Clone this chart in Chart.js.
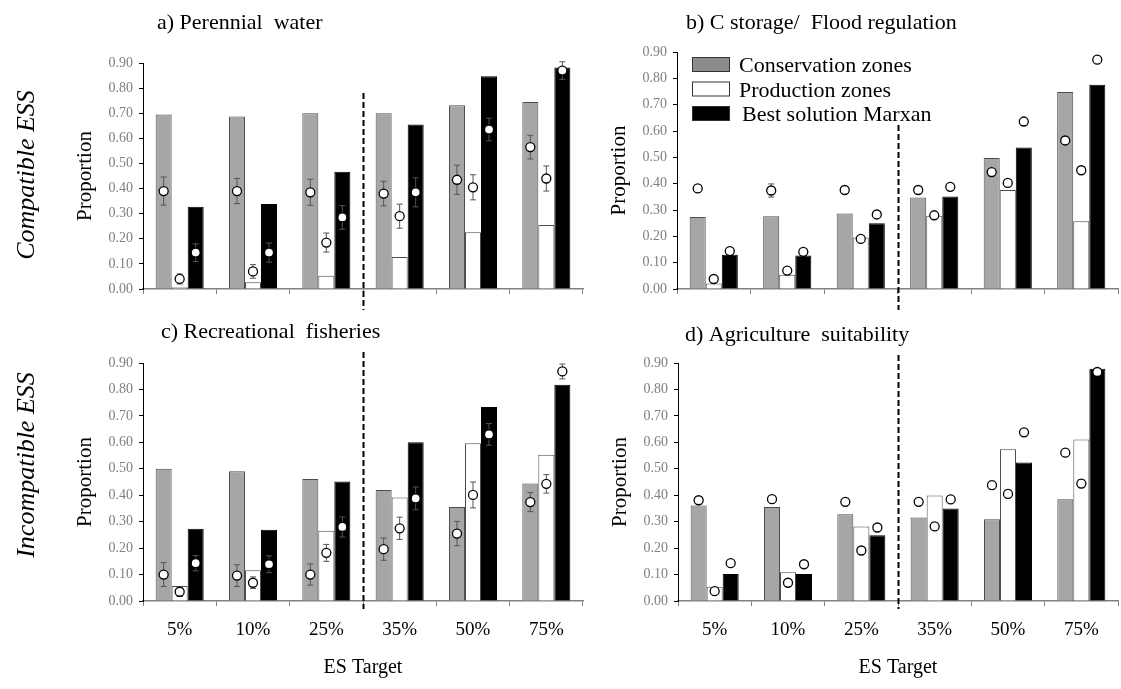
<!DOCTYPE html>
<html>
<head>
<meta charset="utf-8">
<style>
  html, body { margin: 0; padding: 0; background: #fff; }
  #wrap { position: relative; width: 1121px; height: 689px; }
  #wrap canvas { position: absolute; left: 0; top: 0; }
</style>
</head>
<body>
<div id="wrap">
  <canvas id="pa" width="1121" height="689"></canvas>
  <canvas id="pb" width="1121" height="689"></canvas>
  <canvas id="pc" width="1121" height="689"></canvas>
  <canvas id="pd" width="1121" height="689"></canvas>
</div>
<script src="https://cdn.jsdelivr.net/npm/chart.js"></script>
<script>
const targets = ['5%', '10%', '25%', '35%', '50%', '75%'];
const seriesNames = ['Conservation zones', 'Production zones', 'Best solution Marxan'];

// a) Perennial water
const aCons = [0.695, 0.687, 0.700, 0.700, 0.732, 0.745];
const aProd = [0.007, 0.027, 0.053, 0.127, 0.226, 0.255];
const aMarx = [0.328, 0.338, 0.467, 0.655, 0.847, 0.882];
const aConsPt = [0.390, 0.390, 0.385, 0.380, 0.435, 0.565];
const aProdPt = [0.040, 0.070, 0.185, 0.290, 0.405, 0.440];
const aMarxPt = [0.145, 0.145, 0.285, 0.385, 0.635, 0.870];
const aConsErr = [0.056, 0.050, 0.052, 0.049, 0.058, 0.047];
const aProdErr = [0.020, 0.027, 0.038, 0.048, 0.050, 0.050];
const aMarxErr = [0.035, 0.038, 0.047, 0.058, 0.045, 0.035];

// b) C storage/ Flood regulation
const bCons = [0.273, 0.276, 0.287, 0.347, 0.497, 0.748];
const bProd = [0.021, 0.054, 0.196, 0.278, 0.376, 0.257];
const bMarx = [0.130, 0.127, 0.250, 0.351, 0.537, 0.776];
const bConsPt = [0.382, 0.374, 0.376, 0.376, 0.444, 0.564];
const bProdPt = [0.038, 0.070, 0.190, 0.280, 0.403, 0.451];
const bMarxPt = [0.144, 0.141, 0.283, 0.388, 0.636, 0.871];
const bConsErr = [0.012, 0.025, 0.010, 0.010, 0.012, 0.010];
const bProdErr = [0.010, 0.010, 0.008, 0.008, 0.012, 0.012];
const bMarxErr = [0.010, 0.010, 0.012, 0.012, 0.010, 0.008];

// c) Recreational fisheries
const cCons = [0.500, 0.491, 0.461, 0.420, 0.355, 0.444];
const cProd = [0.057, 0.116, 0.266, 0.391, 0.597, 0.553];
const cMarx = [0.273, 0.269, 0.452, 0.600, 0.734, 0.818];
const cConsPt = [0.100, 0.096, 0.100, 0.196, 0.255, 0.374];
const cProdPt = [0.035, 0.069, 0.182, 0.275, 0.401, 0.443];
const cMarxPt = [0.143, 0.139, 0.280, 0.388, 0.630, 0.868];
const cConsErr = [0.045, 0.041, 0.040, 0.042, 0.046, 0.036];
const cProdErr = [0.018, 0.022, 0.032, 0.042, 0.049, 0.035];
const cMarxErr = [0.029, 0.032, 0.038, 0.043, 0.041, 0.028];

// d) Agriculture suitability
const dCons = [0.361, 0.355, 0.328, 0.316, 0.309, 0.385];
const dProd = [0.054, 0.109, 0.282, 0.399, 0.574, 0.611];
const dMarx = [0.102, 0.102, 0.249, 0.350, 0.524, 0.878];
const dConsPt = [0.381, 0.385, 0.375, 0.375, 0.438, 0.561];
const dProdPt = [0.037, 0.069, 0.191, 0.282, 0.405, 0.444];
const dMarxPt = [0.143, 0.139, 0.278, 0.384, 0.638, 0.866];
const dConsErr = [0.008, 0.008, 0.008, 0.008, 0.015, 0.008];
const dProdErr = [0.008, 0.008, 0.008, 0.008, 0.015, 0.015];
const dMarxErr = [0.008, 0.008, 0.008, 0.008, 0.008, 0.005];

const serif = "'Liberation Serif', 'Times New Roman', serif";
const barFill = ['#a6a6a6', '#ffffff', '#000000'];
const barLine = ['#4d4d4d', '#4d4d4d', '#000000'];

// error bars, circles, dashed divider, titles and legend
const decor = {
  id: 'decor',
  afterDatasetsDraw(chart, args, o) {
    const ctx = chart.ctx;
    const y = chart.scales.y, x = chart.scales.x;
    ctx.save();
    // dashed divider between 25% and 35%
    const dx = Math.round(x.getPixelForValue(2.5)) + 0.5;
    ctx.strokeStyle = '#000';
    ctx.lineWidth = 2;
    ctx.setLineDash([6, 3]);
    ctx.beginPath();
    ctx.moveTo(dx, o.dashTop);
    ctx.lineTo(dx, o.dashBottom);
    ctx.stroke();
    ctx.setLineDash([]);
    // points with error bars
    o.points.forEach((vals, i) => {
      const meta = chart.getDatasetMeta(i);
      vals.forEach((v, j) => {
        const px = meta.data[j].x;
        const py = y.getPixelForValue(v);
        const e = o.errs[i][j];
        const y1 = y.getPixelForValue(v + e), y2 = y.getPixelForValue(v - e);
        ctx.strokeStyle = '#555';
        ctx.lineWidth = 1;
        ctx.beginPath();
        ctx.moveTo(px, y1); ctx.lineTo(px, y2);
        ctx.moveTo(px - 3, y1); ctx.lineTo(px + 3, y1);
        ctx.moveTo(px - 3, y2); ctx.lineTo(px + 3, y2);
        ctx.stroke();
        ctx.beginPath();
        ctx.arc(px, py, 4.5, 0, Math.PI * 2);
        ctx.fillStyle = '#fff';
        ctx.fill();
        ctx.strokeStyle = '#000';
        ctx.lineWidth = 1.3;
        ctx.stroke();
      });
    });
    ctx.restore();
  },
  afterDraw(chart, args, o) {
    const ctx = chart.ctx;
    const area = chart.chartArea;
    ctx.save();
    ctx.fillStyle = '#000';
    ctx.textBaseline = 'alphabetic';
    ctx.font = '22px ' + serif;
    ctx.textAlign = 'left';
    ctx.fillText(o.title, o.titleX, o.titleY);
    if (o.xTitle) {
      ctx.font = '20px ' + serif;
      ctx.textAlign = 'center';
      ctx.fillText(o.xTitle, (area.left + area.right) / 2, o.xTitleY);
    }
    if (o.rowLabel) {
      ctx.font = 'italic 26px ' + serif;
      ctx.textAlign = 'center';
      ctx.textBaseline = 'middle';
      ctx.translate(o.rowX, o.rowY);
      ctx.rotate(-Math.PI / 2);
      ctx.fillText(o.rowLabel, 0, 0);
      ctx.setTransform(1, 0, 0, 1, 0, 0);
    }
    if (o.legend) {
      ctx.textBaseline = 'alphabetic';
      ctx.textAlign = 'left';
      ctx.font = '22px ' + serif;
      const sw = ['#8c8c8c', '#ffffff', '#000000'];
      chart.data.datasets.forEach((ds, i) => {
        const top = area.top + 5 + i * 24.5;
        const left = area.left + 15;
        ctx.fillStyle = sw[i];
        ctx.fillRect(left, top, 38, 15);
        ctx.strokeStyle = '#333';
        ctx.lineWidth = 1;
        ctx.strokeRect(left + 0.5, top + 0.5, 37, 14);
        ctx.fillStyle = '#000';
        ctx.fillText(ds.label, left + 47 + (i === 2 ? 3 : 0), top + 15);
      });
    }
    ctx.restore();
  }
};

function makePanel(id, area, bars, points, errs, extra) {
  const [L, T, R, B] = area;
  const W = 70;
  const H = extra.showX ? 40 : 8;
  return new Chart(document.getElementById(id), {
    type: 'bar',
    data: {
      labels: targets,
      datasets: bars.map((d, i) => ({
        label: seriesNames[i],
        data: d,
        backgroundColor: barFill[i],
        borderColor: barLine[i],
        borderWidth: 1,
        categoryPercentage: 0.655,
        barPercentage: 1
      }))
    },
    options: {
      responsive: false,
      animation: false,
      layout: { padding: { left: L - W, top: T, right: 1121 - R, bottom: 689 - B - H } },
      scales: {
        x: {
          offset: true,
          grid: { display: true, drawOnChartArea: false, tickLength: 5, color: '#808080', offset: true },
          border: { color: '#808080', width: 1.5 },
          ticks: { display: extra.showX, color: '#000', font: { family: serif, size: 19 }, padding: 13 },
          afterFit: s => { s.height = H; }
        },
        y: {
          min: 0,
          max: 0.9,
          ticks: { stepSize: 0.1, callback: v => v.toFixed(2), color: '#808080', font: { family: serif, size: 14 }, padding: 6 },
          grid: { drawOnChartArea: false, tickLength: 4, color: '#000' },
          border: { color: '#000', width: 1 },
          title: { display: true, text: 'Proportion', color: '#000', font: { family: serif, size: 21 }, padding: 0 },
          afterFit: s => { s.width = W; }
        }
      },
      plugins: {
        legend: { display: false },
        tooltip: { enabled: false },
        decor: Object.assign({ points: points, errs: errs }, extra)
      }
    },
    plugins: [decor]
  });
}

makePanel('pa', [143, 63, 583, 289], [aCons, aProd, aMarx], [aConsPt, aProdPt, aMarxPt], [aConsErr, aProdErr, aMarxErr],
  { showX: false, dashTop: 93, dashBottom: 310, title: 'a) Perennial  water', titleX: 157, titleY: 29,
    rowLabel: 'Compatible ESS', rowX: 27, rowY: 175 });
makePanel('pb', [677, 52, 1118, 289], [bCons, bProd, bMarx], [bConsPt, bProdPt, bMarxPt], [bConsErr, bProdErr, bMarxErr],
  { showX: false, dashTop: 125, dashBottom: 310, title: 'b) C storage/  Flood regulation', titleX: 686, titleY: 29,
    legend: true });
makePanel('pc', [143, 363, 583, 601], [cCons, cProd, cMarx], [cConsPt, cProdPt, cMarxPt], [cConsErr, cProdErr, cMarxErr],
  { showX: true, dashTop: 352, dashBottom: 609, title: 'c) Recreational  fisheries', titleX: 161, titleY: 338,
    rowLabel: 'Incompatible ESS', rowX: 27, rowY: 465, xTitle: 'ES Target', xTitleY: 673 });
makePanel('pd', [678, 363, 1118, 601], [dCons, dProd, dMarx], [dConsPt, dProdPt, dMarxPt], [dConsErr, dProdErr, dMarxErr],
  { showX: true, dashTop: 355, dashBottom: 609, title: 'd) Agriculture  suitability', titleX: 685, titleY: 341,
    xTitle: 'ES Target', xTitleY: 673 });
</script>
</body>
</html>
